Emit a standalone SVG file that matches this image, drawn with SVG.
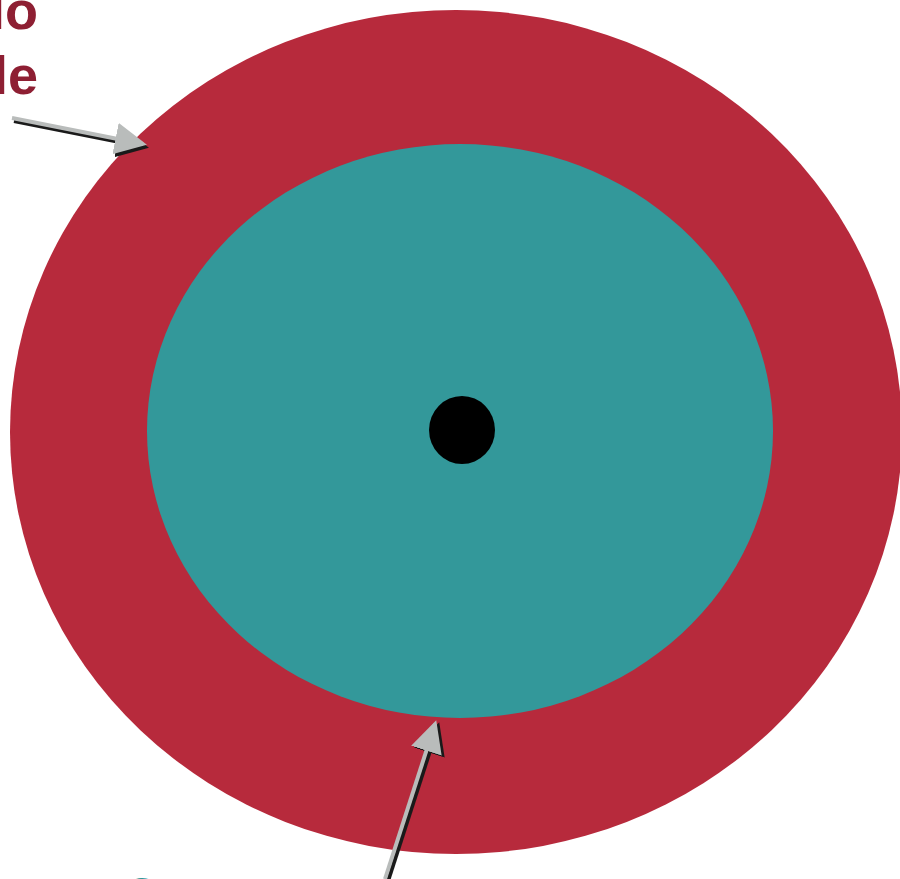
<svg xmlns="http://www.w3.org/2000/svg" width="900" height="879" viewBox="0 0 900 879">
<style>
.lbl{font-family:"Liberation Sans",Arial,sans-serif;font-weight:bold;font-size:54px;fill:#8e1f33}
.arr{stroke:#b9bcbb;stroke-width:4;fill:none}
.sh{stroke:#1a1a1a;stroke-width:4;fill:none}
</style>
<defs>
<marker id="ah" markerWidth="9" markerHeight="8" refX="7" refY="4" orient="auto" markerUnits="strokeWidth">
<path d="M0,0 L8,4 L0,8 z" fill="#b9bcbb"/>
</marker>
<marker id="ahs" markerWidth="9" markerHeight="8" refX="7" refY="4" orient="auto" markerUnits="strokeWidth">
<path d="M0,0 L8,4 L0,8 z" fill="#1a1a1a"/>
</marker>
</defs>
<rect width="900" height="879" fill="#ffffff"/>
<g id="outer"><ellipse cx="456" cy="432" rx="446" ry="422" fill="#b72a3c"/></g>
<g id="inner"><ellipse cx="460" cy="431" rx="313" ry="287" fill="#33989a"/></g>
<g id="core"><ellipse cx="462" cy="430" rx="33" ry="34" fill="#000000"/></g>
<g id="labels">
<text class="lbl" x="38" y="29" text-anchor="end">lo</text>
<text class="lbl" x="38" y="94" text-anchor="end">le</text>
<text x="141" y="906" text-anchor="middle" style="font-family:'Liberation Sans',Arial,sans-serif;font-weight:bold;font-size:40px;fill:#33989a">C</text>
</g>
<g id="connectors">
<line class="sh" x1="14" y1="121" x2="145" y2="147" marker-end="url(#ahs)"/>
<line class="arr" x1="12" y1="118" x2="143" y2="144" marker-end="url(#ah)"/>
<line class="sh" x1="388" y1="881" x2="438" y2="726" marker-end="url(#ahs)"/>
<line class="arr" x1="385" y1="879" x2="435" y2="724" marker-end="url(#ah)"/>
</g>
</svg>
